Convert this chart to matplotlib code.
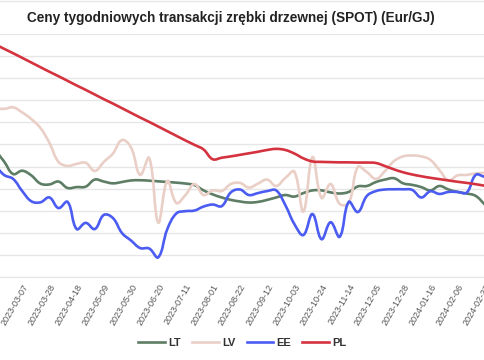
import matplotlib
matplotlib.use('Agg')
import matplotlib.pyplot as plt
import numpy as np
from matplotlib.lines import Line2D
from matplotlib.path import Path
from matplotlib.patches import PathPatch

plt.rcParams['font.family'] = ['Liberation Sans', 'DejaVu Sans']

# etykiety osi X (co trzeci tydzien)
tick_labels = ['2023-02-14', '2023-03-07', '2023-03-28', '2023-04-18', '2023-05-09',
               '2023-05-30', '2023-06-20', '2023-07-11', '2023-08-01', '2023-08-22',
               '2023-09-12', '2023-10-03', '2023-10-24', '2023-11-14', '2023-12-05',
               '2023-12-28', '2024-01-16', '2024-02-06', '2024-02-27']

LT = [9.75, 9.23, 8.66, 8.81, 8.60, 8.23, 8.19, 8.32, 8.03, 8.07, 8.09, 8.41, 8.32, 8.24,
      8.30, 8.37, 8.38, 8.36, 8.33, 8.30, 8.27, 8.23, 8.16, 7.92, 7.74, 7.60, 7.49, 7.42,
      7.37, 7.40, 7.49, 7.60, 7.71, 7.64, 7.80, 7.92, 7.92, 7.83, 7.78, 7.85, 8.10, 8.12,
      8.30, 8.41, 8.47, 8.24, 8.17, 8.07, 7.92, 8.12, 7.96, 7.85, 7.78, 7.67, 7.28]

LV = [11.63, 11.61, 11.68, 11.45, 11.15, 10.75, 10.07, 9.21, 9.03, 9.12, 9.17, 8.80, 9.21,
      9.59, 10.20, 9.86, 8.62, 9.39, 6.46, 8.35, 7.35, 7.71, 8.21, 7.71, 7.92, 7.89, 8.21,
      8.26, 8.05, 8.23, 8.41, 8.12, 8.48, 8.77, 6.96, 9.43, 7.58, 8.21, 7.31, 7.35, 8.98,
      8.75, 8.44, 8.80, 9.25, 9.46, 9.50, 9.46, 9.30, 8.84, 8.37, 8.60, 8.62, 8.69, 8.71]

EE = [9.07, 8.62, 8.44, 7.89, 7.43, 7.38, 7.60, 7.12, 7.40, 6.17, 6.45, 6.17, 6.81, 6.67,
      5.99, 5.65, 5.31, 5.29, 4.89, 6.17, 6.88, 6.98, 7.01, 7.19, 7.28, 7.21, 7.83, 7.96,
      7.71, 7.80, 7.89, 7.92, 7.26, 6.40, 5.90, 6.85, 5.71, 6.48, 5.82, 7.40, 6.94, 7.67,
      7.89, 7.96, 7.97, 7.97, 7.94, 7.60, 7.88, 7.76, 7.85, 7.85, 7.82, 8.62, 8.53]

PL = [14.54, 14.33, 14.13, 13.92, 13.71, 13.50, 13.29, 13.09, 12.88, 12.67, 12.47, 12.26,
      12.05, 11.85, 11.64, 11.43, 11.22, 11.02, 10.81, 10.60, 10.39, 10.18, 9.98, 9.77,
      9.33, 9.40, 9.46, 9.53, 9.60, 9.67, 9.75, 9.80, 9.75, 9.59, 9.37, 9.23, 9.21, 9.20,
      9.19, 9.19, 9.18, 9.18, 9.16, 9.02, 8.87, 8.74, 8.64, 8.56, 8.49, 8.43, 8.37, 8.31,
      8.26, 8.20, 8.13]

series = [('LT', LT, '#5e7d65'), ('LV', LV, '#eacfc7'), ('EE', EE, '#4b5cf2'), ('PL', PL, '#d4323f')]


def smooth_path(ax, xs, ys, t=0.4):
    # krzywe Beziera jak w Chart.js (tension 0.4), liczone w pikselach
    pts = ax.transData.transform(np.column_stack([xs, ys]))
    n = len(pts)
    verts = [pts[0]]
    codes = [Path.MOVETO]
    cp_prev = [None] * n
    cp_next = [None] * n
    for i in range(n):
        p0 = pts[max(i - 1, 0)]
        p1 = pts[i]
        p2 = pts[min(i + 1, n - 1)]
        d01 = np.hypot(*(p1 - p0))
        d12 = np.hypot(*(p2 - p1))
        tot = d01 + d12
        s01 = d01 / tot if tot else 0
        s12 = d12 / tot if tot else 0
        cp_prev[i] = p1 - t * s01 * (p2 - p0)
        cp_next[i] = p1 + t * s12 * (p2 - p0)
    for i in range(1, n):
        verts += [cp_next[i - 1], cp_prev[i], pts[i]]
        codes += [Path.CURVE4] * 3
    verts = ax.transData.inverted().transform(np.array(verts))
    return Path(verts, codes)


fig = plt.figure(figsize=(4.85, 3.6), dpi=100)
ax = fig.add_axes([-5 / 485, 1 - 277 / 360, 489.8 / 485, 243 / 360])

ax.set_xlim(0, len(LT) - 1)
ax.set_ylim(4, 15)
x = list(range(len(LT)))
handles = []
for name, vals, col in series:
    ax.add_patch(PathPatch(smooth_path(ax, x, vals), facecolor='none', edgecolor=col, lw=1.9,
                           capstyle='round', joinstyle='round'))
    handles.append(Line2D([], [], color=col, lw=1.9, label=name))

ax.set_yticks(range(4, 16))
ax.yaxis.grid(True, color='#e6e6e6', lw=1)
ax.set_axisbelow(True)
ax.tick_params(axis='y', length=0, labelleft=False)
for s in ['top', 'left', 'right']:
    ax.spines[s].set_visible(False)
ax.spines['bottom'].set_color('#e6e6e6')

ax.set_xticks(range(0, len(LT), 3))
ax.set_xticklabels(tick_labels, rotation=60, ha='right', va='top', rotation_mode='anchor',
                   fontsize=6.5, color='#555555')
ax.tick_params(axis='x', length=0, pad=4)

fig.text(0.475, 1 - 18 / 360, 'Ceny tygodniowych transakcji zrębki drzewnej (SPOT) (Eur/GJ)',
         ha='center', va='center', fontsize=9.8, fontweight='bold', color='#222222')
fig.add_artist(Line2D([0, 1], [1 - 1 / 360, 1 - 1 / 360], color='#e6e6e6', lw=1))

leg = fig.legend(handles=handles, loc='center', bbox_to_anchor=(0.5, 1 - 343 / 360), ncol=4,
                 frameon=False, handlelength=2.4, handletextpad=0.3, columnspacing=1.0,
                 prop={'weight': 'bold', 'size': 8})
for t in leg.get_texts():
    t.set_color('#333333')

fig.savefig('out.png', dpi=100)
